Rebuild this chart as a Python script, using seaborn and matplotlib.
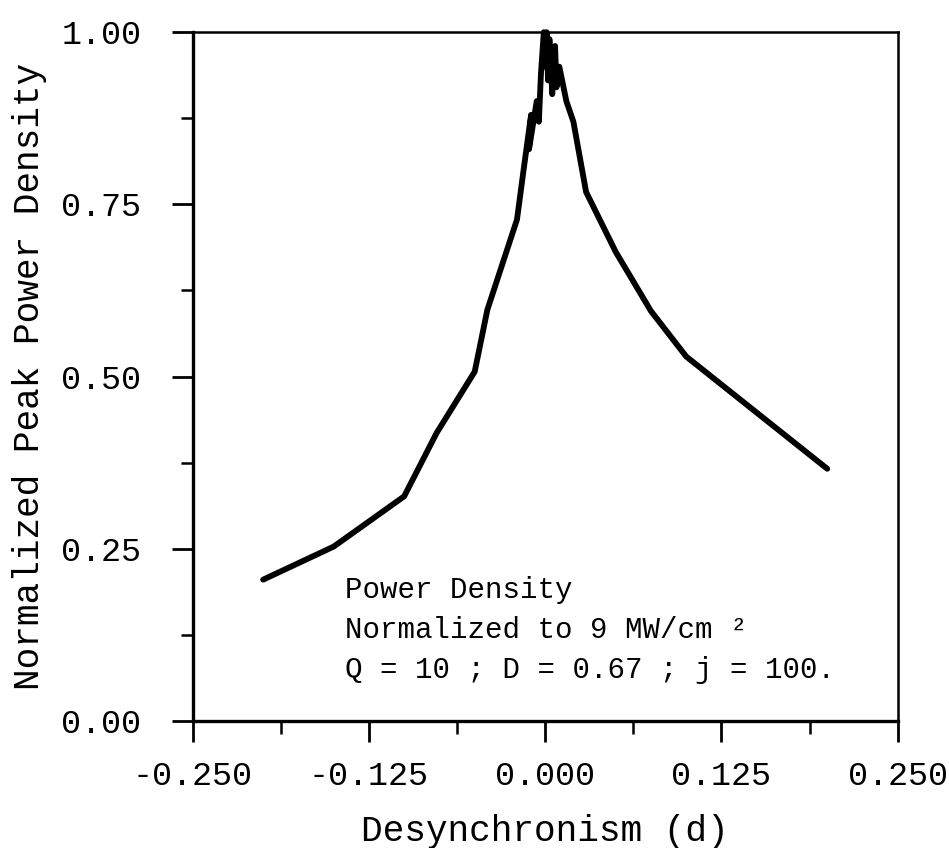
# Normalized peak power density vs desynchronism
import numpy as np
import pandas as pd
import matplotlib
matplotlib.use("Agg")
import matplotlib.pyplot as plt
from matplotlib.ticker import MultipleLocator, FormatStrFormatter
import seaborn as sns

# ---- data ----
desync = [-0.200, -0.150, -0.100, -0.077, -0.050, -0.041, -0.020, -0.015,
          -0.010, -0.0115, -0.006, -0.0045, -0.003, -0.001, 0.000, 0.001,
          0.002, 0.003, 0.005, 0.007, 0.008, 0.010, 0.015, 0.020, 0.029,
          0.050, 0.075, 0.100, 0.200]
power = [0.205, 0.253, 0.326, 0.418, 0.507, 0.597, 0.728, 0.805,
         0.880, 0.830, 0.900, 0.870, 0.940, 1.000, 0.950, 1.000,
         0.930, 0.990, 0.910, 0.980, 0.920, 0.950, 0.900, 0.870, 0.768,
         0.681, 0.595, 0.529, 0.366]

x_ticks = [-0.250, -0.125, 0.000, 0.125, 0.250]
y_ticks = [0.00, 0.25, 0.50, 0.75, 1.00]
note_lines = ["Power Density", "Normalized to 9 MW/cm \u00b2",
              "Q = 10 ; D = 0.67 ; j = 100."]

df = pd.DataFrame({"d": desync, "p": power})

sns.set_style("ticks")
plt.rcParams["font.family"] = ["Liberation Mono", "DejaVu Sans Mono"]
plt.rcParams["text.color"] = "black"
plt.rcParams["axes.labelcolor"] = "black"
plt.rcParams["axes.edgecolor"] = "black"
plt.rcParams["xtick.color"] = "black"
plt.rcParams["ytick.color"] = "black"

fig = plt.figure(figsize=(9.49, 8.48), dpi=100)
ax = fig.add_axes([0.203, 0.150, 0.743, 0.812])

sns.lineplot(data=df, x="d", y="p", sort=False, estimator=None,
             color="black", linewidth=4.2, ax=ax)
ax.lines[0].set_clip_on(False)

ax.set_xlim(-0.25, 0.25)
ax.set_ylim(0.0, 1.0)
ax.set_xticks(x_ticks)
ax.set_yticks(y_ticks)
ax.xaxis.set_major_formatter(FormatStrFormatter("%.3f"))
ax.yaxis.set_major_formatter(FormatStrFormatter("%.2f"))
ax.xaxis.set_minor_locator(MultipleLocator(0.0625))
ax.yaxis.set_minor_locator(MultipleLocator(0.125))

ax.tick_params(axis="both", which="major", direction="out", length=15,
               width=2, labelsize=24)
ax.tick_params(axis="both", which="minor", direction="out", length=9,
               width=1.8)
ax.tick_params(axis="x", pad=14)
ax.tick_params(axis="y", pad=22)
ax.tick_params(top=False, right=False, which="both")

for side in ["left", "bottom"]:
    ax.spines[side].set_linewidth(2.4)
for side in ["top", "right"]:
    ax.spines[side].set_visible(True)
    ax.spines[side].set_linewidth(1.8)

ax.set_xlabel("Desynchronism (d)", fontsize=26, labelpad=16)
ax.set_ylabel("Normalized Peak Power Density", fontsize=26, labelpad=10)

for i, line in enumerate(note_lines):
    ax.text(0.216, 0.19 - i * 0.058, line, transform=ax.transAxes,
            fontsize=21, va="center", ha="left")

fig.savefig("out.png", dpi=100, facecolor="white")
